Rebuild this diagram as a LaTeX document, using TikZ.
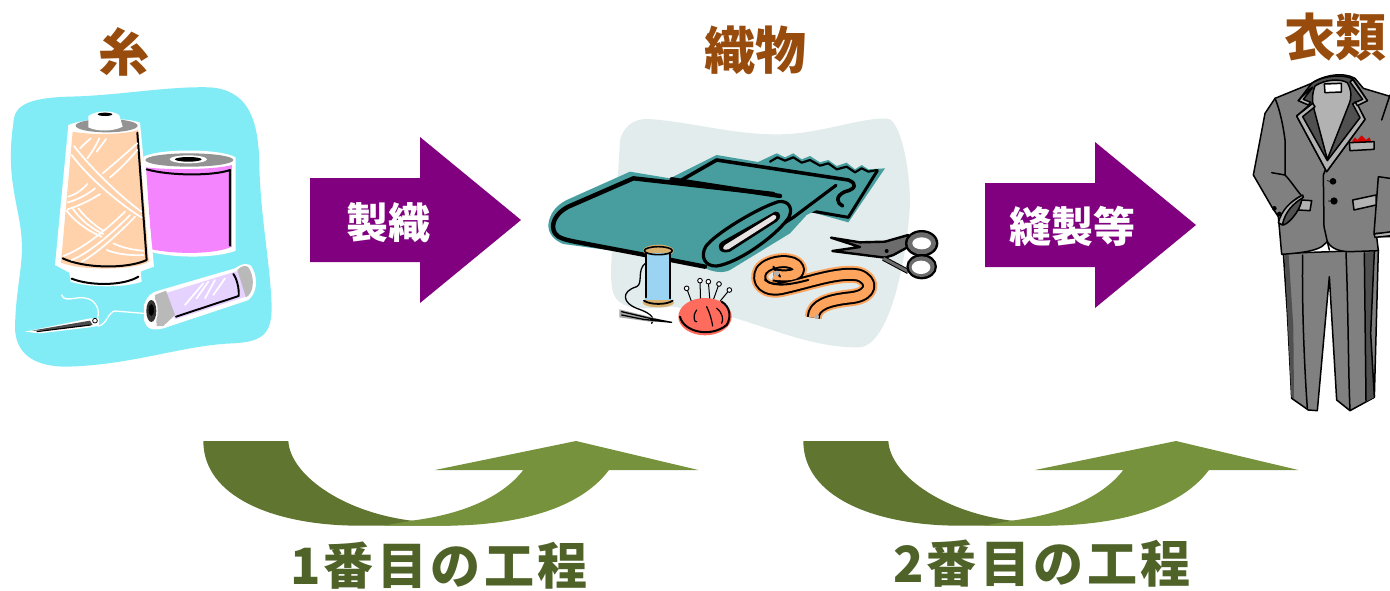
\documentclass[tikz,border=0pt]{standalone}
\usepackage{fontspec}
\newfontfamily\cjk{Noto Sans CJK JP}
\definecolor{brownT}{HTML}{974B0C}
\definecolor{purpleA}{HTML}{800080}
\definecolor{greenD}{HTML}{5F7530}
\definecolor{greenL}{HTML}{76923C}
\definecolor{greenT}{HTML}{4F6228}
\definecolor{skyB}{HTML}{82ECF6}
\definecolor{peach}{HTML}{FFD2AC}
\definecolor{pinkS}{HTML}{F584FF}
\definecolor{lilac}{HTML}{E6D2FF}
\definecolor{paleB}{HTML}{E2ECEC}
\definecolor{tealF}{HTML}{489E9E}
\definecolor{orangeT}{HTML}{FFA45C}
\definecolor{redP}{HTML}{FF6B5C}
\definecolor{blueS}{HTML}{9AD4F2}
\definecolor{tanS}{HTML}{D8B070}
\definecolor{suitG}{HTML}{808080}
\definecolor{suitD}{HTML}{505050}
\definecolor{suitL}{HTML}{B2B2B2}
\definecolor{sciss}{HTML}{6C6C6C}
\tikzset{
 x=1pt,y=-1pt,
 title/.style={font=\cjk\bfseries\fontsize{51}{56}\selectfont,text=brownT,inner sep=0pt},
 arrowlabel/.style={font=\cjk\bfseries\fontsize{42}{44}\selectfont,text=white,inner sep=0pt},
 steplabel/.style={font=\cjk\bfseries\fontsize{50}{54}\selectfont\addfontfeature{LetterSpace=7},text=greenT,inner sep=0pt,anchor=base},
 str/.style={white,line width=1.7pt,line cap=round},
 blk/.style={black,line cap=round,line join=round},
 suitline/.style={black,line width=1.5pt,line join=round,line cap=round},
}
\begin{document}
\begin{tikzpicture}
\useasboundingbox (0,0) rectangle (1390,590);
\clip (0,0) rectangle (1390,590);
% ---------- thread picture
\begin{scope}[shift={(0,80)},scale=1/3]
\fill[skyB] (40,130) .. controls (42,75) and (85,55) .. (200,50) .. controls (350,48) and (500,18) .. (630,22) .. controls (740,30) and (775,110) .. (778,250) .. controls (780,400) and (812,560) .. (815,680) .. controls (815,760) and (790,785) .. (700,790) .. controls (550,795) and (400,855) .. (200,860) .. controls (100,860) and (45,820) .. (45,740) .. controls (48,620) and (70,560) .. (65,480) .. controls (60,380) and (15,300) .. (40,130) -- cycle;
% pink spool
\fill[white] (430,230) .. controls (480,205) and (660,205) .. (707,232) -- (707,512) .. controls (650,535) and (520,535) .. (450,515) -- cycle;
\fill[pinkS] (438,262) .. controls (500,270) and (640,270) .. (696,255) -- (696,500) .. controls (640,525) and (520,522) .. (455,508) -- cycle;
\fill[gray!85] (568,240) ellipse [x radius=132,y radius=20];
\fill[white] (565,238) ellipse [x radius=56,y radius=12];
\fill[black] (565,238) ellipse [x radius=40,y radius=7];
\draw[blk,line width=2pt] (440,268) .. controls (510,288) and (640,288) .. (690,270) -- (690,497);
% cone
\fill[white] (205,135) .. controls (260,112) and (380,112) .. (420,128) -- (462,560) .. controls (450,565) and (430,570) .. (422,575) -- (425,605) .. controls (370,625) and (260,622) .. (212,605) -- (208,578) -- (165,555) -- cycle;
\fill[peach] (218,155) .. controls (270,165) and (370,165) .. (415,150) -- (447,545) .. controls (400,572) and (240,572) .. (183,548) -- cycle;
\fill[gray!85] (320,137) ellipse [x radius=93,y radius=20];
\fill[white] (265,108) .. controls (290,90) and (340,90) .. (358,106) -- (368,140) .. controls (340,155) and (290,155) .. (265,142) -- cycle;
\fill[black] (315,103) ellipse [x radius=22,y radius=5];
\draw[blk,line width=2pt] (412,158) -- (440,540) .. controls (380,568) and (250,565) .. (188,535);
\draw[blk,line width=2pt] (215,596) .. controls (270,618) and (370,618) .. (415,590);
\foreach \a/\b/\c/\d/\e/\f/\g/\h in {
 222/198/300/300/420/395/425/395,
 215/225/290/325/420/412/425/412,
 205/350/240/340/262/312/262/312,
 203/367/250/355/285/325/285/325,
 203/388/260/370/300/342/300/342,
 200/392/240/445/305/470/305/470,
 218/385/255/440/310/462/310/462,
 235/385/270/430/310/452/310/452,
 190/528/270/500/375/395/375/395,
 215/540/290/510/390/405/390/405,
 245/545/310/510/405/410/405/410,
 320/510/370/530/430/525/430/525,
 340/490/380/510/430/512/430/512,
 240/205/255/190/272/175/272/175,
 262/235/285/205/298/175/298/175,
 290/215/305/195/318/177/318/177,
 308/280/350/245/412/190/412/190,
 330/292/370/260/412/210/412/210}
 {\draw[str] (\a,\b) .. controls (\c,\d) and (\e,\f) .. (\g,\h);}
% small spool
\fill[white] (432,675) .. controls (440,650) and (455,636) .. (475,632) -- (705,565) .. controls (725,550) and (750,545) .. (758,565) .. controls (775,600) and (770,640) .. (745,660) -- (725,667) -- (490,745) .. controls (460,752) and (440,750) .. (432,720) -- cycle;
\fill[lilac] (495,640) -- (715,572) -- (738,650) -- (525,718) -- cycle;
\fill[gray!55] (465,645) -- (498,632) -- (525,705) -- (490,738) -- (470,738) -- cycle;
\fill[gray!55] (712,570) .. controls (725,555) and (745,552) .. (750,570) .. controls (765,600) and (760,640) .. (738,652) -- cycle;
\fill[white] (454,693) ellipse [x radius=19,y radius=43];
\fill[black!80] (454,693) ellipse [x radius=15,y radius=33];
\fill[black] (454,690) ellipse [x radius=8,y radius=18];
\draw[blk,line width=1.9pt] (700,582) .. controls (710,595) and (718,625) .. (716,648) -- (528,710);
\foreach \a/\b/\c/\d in {555/675/610/610,590/655/625/605,615/655/645/600,640/645/675/595}
 {\draw[str,line width=1.7pt] (\a,\b) -- (\c,\d);}
% thread and needle
\draw[str,line width=1.3pt] (185,645) .. controls (195,675) and (245,635) .. (280,665) .. controls (300,685) and (298,710) .. (285,730) (430,700) -- (345,693) .. controls (325,695) and (320,735) .. (295,738) -- (280,722);
\fill[white] (75,755) -- (270,715) -- (297,715) -- (297,737) -- (270,742) -- (120,760) -- cycle;
\fill[gray!60!black] (95,752) -- (270,722) -- (278,735) -- (130,752) -- cycle;
\draw[black,line width=1.1pt] (110,755) -- (272,735);
\draw[black,line width=.8pt] (285,722) circle [radius=7];
\end{scope}
% ---------- cloth picture
\begin{scope}[shift={(540,110)},scale=1/3]
\fill[paleB] (240,90) .. controls (255,40) and (290,22) .. (340,28) .. controls (480,40) and (620,85) .. (770,70) .. controls (870,60) and (1000,15) .. (1050,28) .. controls (1085,50) and (1110,180) .. (1110,280) .. controls (1105,400) and (1060,700) .. (960,712) .. controls (820,715) and (680,650) .. (570,620) -- (400,590) .. controls (300,600) and (240,600) .. (220,550) .. controls (200,500) and (230,300) .. (240,90) -- cycle;
% back cloth
\fill[tealF] (650,158) -- (710,130) -- (735,142) -- (760,130) -- (785,148) -- (810,138) -- (840,157) -- (865,150) -- (890,168) -- (920,158) -- (945,178) -- (965,165) -- (985,178) -- (1035,175) -- (925,337) -- (810,305) -- (700,230) -- cycle;
\draw[blk,line width=2.2pt] (690,155) -- (712,142) -- (735,152) -- (760,142) -- (785,158) -- (810,150) -- (840,167) -- (865,160) -- (890,178) -- (920,170) -- (945,187) -- (965,175) -- (985,185) -- (1012,180);
\draw[blk,line width=3pt] (815,303) -- (925,322) -- (1012,182);
% middle and front layers
\fill[tealF] (25,345) .. controls (28,310) and (50,285) .. (80,270) -- (270,185) -- (390,205) -- (530,135) -- (945,205) .. controls (960,230) and (930,250) .. (905,262) -- (800,315) -- (750,370) -- (570,480) .. controls (550,490) and (520,488) .. (490,472) -- (290,432) -- (70,402) .. controls (40,390) and (25,370) .. (25,345) -- cycle;
\draw[blk,line width=3.6pt] (425,210) -- (530,150) -- (925,210) .. controls (955,222) and (945,238) .. (915,245) .. controls (885,258) and (890,280) .. (908,288);
\draw[blk,line width=4.4pt] (395,208) -- (720,258);
\draw[blk,line width=4.4pt] (700,252) -- (280,205) -- (85,290) .. controls (45,310) and (30,345) .. (45,370) .. controls (55,385) and (80,390) .. (110,396) -- (300,432) -- (495,470);
\draw[blk,line width=3.2pt] (888,226) -- (760,322) -- (700,360);
% roll end
\fill[tealF] (495,410) .. controls (520,370) and (650,290) .. (715,272) .. controls (750,265) and (760,300) .. (745,325) .. controls (700,385) and (590,460) .. (530,468) .. controls (495,470) and (480,440) .. (495,410) -- cycle;
\draw[blk,line width=3.2pt] (497,410) .. controls (520,375) and (650,295) .. (715,275) .. controls (750,270) and (760,300) .. (745,325) .. controls (700,385) and (590,460) .. (530,468) .. controls (495,470) and (480,440) .. (497,410) -- cycle;
\fill[black] (545,395) -- (705,305) .. controls (725,305) and (725,325) .. (710,335) -- (570,425) .. controls (540,435) and (525,410) .. (545,395) -- cycle;
\fill[paleB!80!pink] (555,405) -- (700,315) .. controls (712,315) and (712,325) .. (700,332) -- (565,418) .. controls (548,422) and (545,415) .. (555,405) -- cycle;
% spool
\fill[tanS] (355,422) ellipse [x radius=46,y radius=18];
\fill[tanS] (355,578) ellipse [x radius=47,y radius=14];
\fill[blueS] (316,430) rectangle (392,570);
\draw[blk,line width=2.2pt] (318,430) -- (318,562);
\draw[blk,line width=2.2pt] (390,430) -- (390,565);
\draw[blk,line width=1.6pt] (355,422) ellipse [x radius=42,y radius=12];
\draw[blk,line width=1.8pt] (312,572) .. controls (330,585) and (380,585) .. (398,572);
% thread + needle
\draw[blk,line width=1.3pt] (316,460) .. controls (290,480) and (310,520) .. (290,530) .. controls (240,545) and (250,580) .. (290,595) .. controls (320,605) and (350,620) .. (335,640);
\fill[gray!70] (238,598) -- (320,618) -- (395,637) -- (330,635) -- (238,622) -- cycle;
\draw[blk,line width=1.3pt] (245,605) -- (330,625) -- (395,637) -- (310,628) -- (245,615);
% pin cushion
\foreach \a/\b/\c/\d in {440/535/460/590,480/512/482/580,505/515/510/575,537/522/518/575,568/540/535/580}
 {\draw[blk,line width=1pt] (\a,\b) -- (\c,\d); \draw[black,fill=white,line width=.9pt] (\a,\b) circle [radius=7];}
\fill[redP] (495,620) ellipse [x radius=80,y radius=56];
\draw[blk,line width=2pt] (420,620) .. controls (430,665) and (510,685) .. (560,645) .. controls (575,620) and (570,590) .. (545,575);
\draw[blk,line width=1.2pt] (470,600) .. controls (455,620) and (465,640) .. (470,635) (500,590) .. controls (510,610) and (515,630) .. (518,648) (530,595) .. controls (550,610) and (550,630) .. (545,640);
\end{scope}
% ---------- tape and scissors
\begin{scope}[shift={(745,225)},scale=1/3]
\def\tapepath{(205,278) .. controls (205,240) and (250,225) .. (320,218) .. controls (385,210) and (385,165) .. (340,150) .. controls (280,140) and (200,170) .. (120,188) .. controls (60,205) and (30,170) .. (50,135) .. controls (75,105) and (150,100) .. (160,130) .. controls (165,155) and (120,155) .. (85,150)}
\draw[orangeT,line width=17pt,line join=round] \tapepath;
\draw[black,line width=13pt,line join=round] \tapepath;
\draw[orangeT,line width=9pt,line join=round] \tapepath;
\draw[black,line width=2pt,line cap=round] (60,165) .. controls (90,190) and (150,175) .. (190,165) (85,125) -- (105,155);
\fill[gray!60] (95,145) circle [radius=8];
\fill[gray!60] (215,275) circle [radius=7];
% scissors
\draw[black,line width=2.4pt,line join=round,fill=sciss] (258,38) -- (345,52) -- (420,50) -- (490,30) -- (500,60) -- (445,90) -- (420,98) -- (262,78) -- (345,66) -- cycle;
\draw[black,line width=5pt] (415,100) -- (490,140);
\draw[sciss,line width=3pt] (415,100) -- (490,140);
\fill[black] (530,55) ellipse [x radius=50,y radius=40];
\fill[sciss] (530,55) ellipse [x radius=43,y radius=33];
\fill[white] (530,55) ellipse [x radius=28,y radius=18];
\fill[black] (530,125) ellipse [x radius=46,y radius=38];
\fill[sciss] (530,125) ellipse [x radius=39,y radius=31];
\fill[white] (528,127) ellipse [x radius=28,y radius=20];
\fill[black] (425,78) circle [radius=6];
\end{scope}
% ---------- suit picture
\begin{scope}[shift={(1240,60)},scale=1/3]
% trousers
\draw[suitline,fill=suitG] (130,580) -- (142,760) -- (155,1015) -- (205,1050) -- (232,1052) -- (268,650) -- (290,1020) -- (330,1052) -- (403,1012) -- (415,570) -- cycle;
\fill[suitD] (134,585) -- (146,585) -- (160,800) -- (162,1015) -- (154,1010) -- cycle;
\fill[suitD] (375,578) -- (402,575) -- (392,820) -- (402,1012) -- (378,1025) -- cycle;
\draw[suitline] (188,585) .. controls (185,750) and (195,950) .. (202,1045);
\draw[suitline] (318,578) .. controls (325,750) and (325,950) .. (330,1050);
\draw[suitline] (403,575) -- (392,820) -- (403,1010);
\draw[suitline] (373,578) -- (378,1022);
% jacket
\draw[suitline,fill=suitG] (215,70) .. controls (250,45) and (310,35) .. (345,55) -- (370,85) -- (470,115) -- (480,530) -- (410,530) -- (415,572) -- (330,575) .. controls (290,575) and (270,560) .. (262,545) -- (245,560) .. controls (220,575) and (170,580) .. (125,583) -- (115,470) -- (95,440) -- (40,345) -- (60,240) -- (75,160) -- (105,115) -- cycle;
\draw[suitline] (105,115) .. controls (120,150) and (130,200) .. (135,240) -- (135,345) -- (95,338);
\draw[suitline] (135,345) .. controls (150,360) and (170,390) .. (185,408);
\draw[suitline] (450,105) -- (425,180);
\draw[suitline] (415,350) -- (450,355) (415,350) -- (402,520) (408,520) -- (450,520);
\draw[suitline] (258,325) -- (250,345) -- (252,500) -- (262,545) -- (268,570);
% pocket square
\fill[red!85!black] (335,245) -- (345,232) -- (352,240) -- (365,226) -- (378,240) -- (388,232) -- (395,247) -- cycle;
\draw[suitline,fill=suitL] (328,248) -- (402,245) -- (402,268) -- (330,272) -- cycle;
% buttons
\fill[black] (279,364) circle [radius=10] (282,423) circle [radius=11];
\draw[suitline,line width=.7pt] (262,362) -- (270,364) (265,423) -- (272,423);
% pockets
\draw[suitline,fill=suitL] (338,420) -- (408,405) -- (408,435) -- (342,450) -- cycle;
\draw[suitline,fill=suitL] (185,420) -- (215,422) -- (210,452) -- (175,450) -- cycle;
% cuff
\draw[suitline,fill=suitD] (185,408) .. controls (190,440) and (150,490) .. (130,495) .. controls (120,480) and (140,425) .. (185,408) -- cycle;
\draw[suitline,fill=suitL] (188,405) .. controls (150,425) and (125,450) .. (115,488) -- (127,495) .. controls (135,455) and (160,430) .. (190,412) -- cycle;
\fill[black] (103,445) circle [radius=7] (118,462) circle [radius=7];
\draw[suitline,fill=suitL] (402,522) -- (455,515) -- (455,527) -- (405,532) -- cycle;
\end{scope}
% collar and lapels
\begin{scope}[shift={(1250,70)},scale=1/3]
\draw[suitline,fill=suitD] (185,40) .. controls (220,15) and (285,12) .. (310,28) -- (352,92) -- (322,105) -- (345,148) -- (230,305) -- (140,138) -- (178,105) -- (145,92) -- cycle;
\draw[suitline,fill=suitL] (195,48) .. controls (225,28) and (270,25) .. (292,38) .. controls (305,60) and (305,85) .. (298,100) -- (232,268) -- (190,110) .. controls (185,85) and (188,65) .. (195,48) -- cycle;
\draw[suitline,fill=white] (223,42) -- (274,40) -- (274,66) -- (225,68) -- cycle;
\draw[suitline,fill=suitL] (140,138) -- (188,100) -- (195,110) -- (158,140) -- (232,272) -- (330,143) -- (308,102) -- (318,95) -- (345,148) -- (230,305) -- cycle;
\draw[suitline,fill=suitL] (178,58) -- (145,92) -- (175,105) -- (182,97) -- (160,88) -- (188,52) -- cycle;
\draw[suitline,fill=suitL] (308,28) -- (352,92) -- (322,107) -- (316,97) -- (338,88) -- (300,36) -- cycle;
\end{scope}
% ---------- block arrows
\fill[purpleA] (310,178) -- (420,178) -- (420,137) -- (521,220) -- (420,303) -- (420,262) -- (310,262) -- cycle;
\fill[purpleA] (985,183) -- (1095,183) -- (1095,142) -- (1196,225) -- (1095,308) -- (1095,267) -- (985,267) -- cycle;
% ---------- curved arrows
\foreach \dx in {0,600}{
\begin{scope}[shift={(190+\dx,430)},scale=1/3]
\fill[greenD] (40,33) -- (295,33) .. controls (300,130) and (450,245) .. (665,272) -- (790,287) -- (500,287) .. controls (250,285) and (40,200) .. (40,33) -- cycle;
\fill[greenL] (665,272) .. controls (800,255) and (930,210) .. (1000,120) -- (735,120) -- (1158,33) -- (1525,120) -- (1257,120) .. controls (1160,250) and (950,285) .. (780,287) -- (580,287) -- cycle;
\end{scope}}
% ---------- texts
\node[title] (thread) at (124,52) {糸};
\node[title] (cloth) at (755,50) {織物};
\node[title] (clothes) at (1335,37) {衣類};
\node[arrowlabel] (weave) at (388,223) {製織};
\node[arrowlabel] (sew) at (1072,226) {縫製等};
\node[steplabel] (first) at (439,584) {1番目の工程};
\node[steplabel] (second) at (1042,582) {2番目の工程};
\end{tikzpicture}
\end{document}
